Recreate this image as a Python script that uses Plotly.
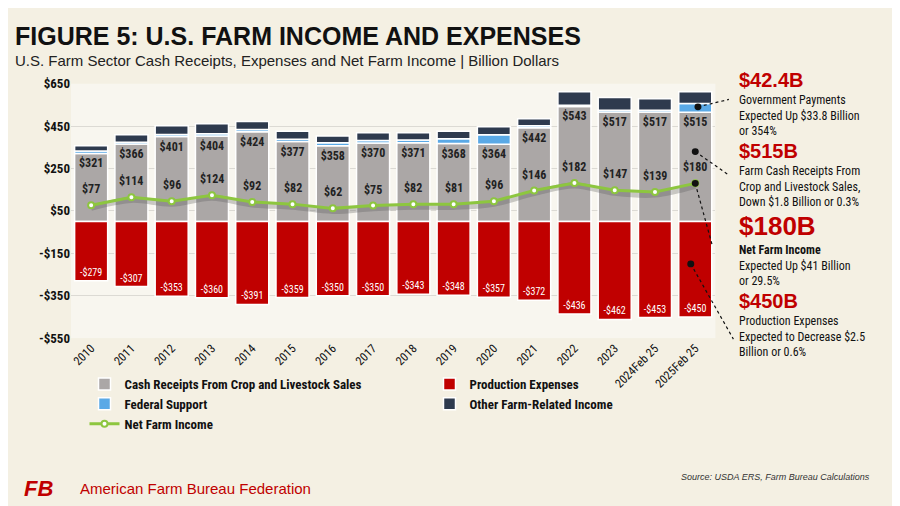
import plotly.graph_objects as go

years = ["2010","2011","2012","2013","2014","2015","2016","2017","2018","2019","2020","2021","2022","2023","2024Feb 25","2025Feb 25"]
cash = [321,366,401,404,424,377,358,370,371,368,364,442,543,517,517,515]
federal = [12,8,10,10,10,11,13,12,14,22,45,10,6,8,8,42]
other = [24,35,41,47,38,38,32,37,34,36,38,33,63,60,54,55]
expenses = [-279,-307,-353,-360,-391,-359,-350,-350,-343,-348,-357,-372,-436,-462,-453,-450]
net = [77,114,96,124,92,82,62,75,82,81,96,146,182,147,139,180]

XD = [0.07, 0.786]
YD = [0.342, 0.86]
YR = [-550, 650]

NARROW = "Liberation Sans Narrow, Arial Narrow, Roboto Condensed, sans-serif"
fig = go.Figure()
fig.add_bar(x=years, y=cash, name="<b>Cash Receipts From Crop and Livestock Sales</b>",
            marker=dict(color="#aba7a6", line=dict(color="#ffffff", width=1.5)),
            text=[f"<b>${v}</b>" for v in cash], textposition="inside", insidetextanchor="end",
            textangle=0, textfont=dict(family=NARROW, size=12, color="#222"))
fig.add_bar(x=years, y=expenses, name="<b>Production Expenses</b>",
            marker=dict(color="#c00000", line=dict(color="#ffffff", width=1.5)),
            text=[f"-${-v}" for v in expenses], textposition="inside", insidetextanchor="end",
            textangle=0, textfont=dict(family=NARROW, size=10, color="white"))
fig.add_bar(x=years, y=federal, name="<b>Federal Support</b>",
            marker=dict(color="#5aa9e6", line=dict(color="#ffffff", width=1.5)))
fig.add_bar(x=years, y=other, name="<b>Other Farm-Related Income</b>",
            marker=dict(color="#2e3a4e", line=dict(color="#ffffff", width=1.5)))
fig.add_scatter(x=years, y=[v - 12 for v in net], mode="lines", showlegend=False, hoverinfo="skip",
                line=dict(color="rgba(90,90,90,0.3)", width=6, shape="spline"))
fig.add_scatter(x=years, y=net, name="<b>Net Farm Income</b>", mode="lines+markers",
                line=dict(color="#8dc63f", width=3),
                marker=dict(size=6, color="white", line=dict(color="#8dc63f", width=2)))
for i, v in enumerate(net):
    fig.add_annotation(x=i, y=v, text=f"<b>${v}</b>", showarrow=False, yshift=16,
                       font=dict(family=NARROW, size=12, color="#222"))

fig.update_layout(
    width=900, height=506, barmode="relative", bargap=0.18,
    paper_bgcolor="#f4f0e3", plot_bgcolor="#f8f6ef",
    margin=dict(l=0, r=0, t=0, b=0),
    font=dict(family=NARROW, color="#111"),
    xaxis=dict(type="category", domain=XD, range=[-0.5, 15.5], tickangle=-45,
               tickfont=dict(size=12, family=NARROW), showgrid=False, ticks=""),
    yaxis=dict(domain=YD, range=YR, tickvals=[-550,-350,-150,50,250,450,650],
               ticktext=["<b>-$550</b>","<b>-$350</b>","<b>-$150</b>","<b>$50</b>","<b>$250</b>","<b>$450</b>","<b>$650</b>"],
               tickfont=dict(size=13, family=NARROW), gridcolor="#dcdad4", zeroline=False),
    legend=dict(orientation="h", x=0.085, y=0.279, xanchor="left", yanchor="top",
                entrywidth=300, traceorder="normal",
                font=dict(size=13, family=NARROW), bgcolor="rgba(0,0,0,0)"),
)

fig.add_annotation(xref="paper", yref="paper", x=0.005, y=0.957, xanchor="left", yanchor="middle",
                   text="<b>FIGURE 5: U.S. FARM INCOME AND EXPENSES</b>", showarrow=False,
                   font=dict(family="Liberation Sans, Arial", size=25, color="#111"))
fig.add_annotation(xref="paper", yref="paper", x=0.005, y=0.907, xanchor="left", yanchor="middle",
                   text="U.S. Farm Sector Cash Receipts, Expenses and Net Farm Income | Billion Dollars",
                   showarrow=False, font=dict(family="Liberation Sans, Arial", size=15, color="#222"))

blocks = [
    (0.895, "$42.4B", 20, ["Government Payments", "Expected Up $33.8 Billion", "or 354%"]),
    (0.75, "$515B", 20, ["Farm Cash Receipts From", "Crop and Livestock Sales,", "Down $1.8 Billion or 0.3%"]),
    (0.605, "$180B", 26, ["<b>Net Farm Income</b>", "Expected Up $41 Billion", "or 29.5%"]),
    (0.445, "$450B", 20, ["Production Expenses", "Expected to Decrease $2.5", "Billion or 0.6%"]),
]
for y, head, sz, lines in blocks:
    fig.add_annotation(xref="paper", yref="paper", x=0.81, y=y, xanchor="left", yanchor="top",
                       text=f"<b>{head}</b>", showarrow=False,
                       font=dict(family="Liberation Sans, Arial", size=sz, color="#c00000"))
    fig.add_annotation(xref="paper", yref="paper", x=0.81, y=y - (0.05 if sz == 20 else 0.065),
                       xanchor="left", yanchor="top", align="left", showarrow=False,
                       text="<br>".join(lines), font=dict(family=NARROW, size=12, color="#111"))

def px(i):
    return XD[0] + (XD[1] - XD[0]) * (i + 0.5) / 16
def py(v):
    return YD[0] + (YD[1] - YD[0]) * (v - YR[0]) / (YR[1] - YR[0])

last = 15
pointers = [
    (px(last) + 0.003, py(cash[last] + federal[last] / 2 + 5), 0.801, 1 - 87 / 506),
    (px(last), py(net[last] + 150), 0.801, 1 - 165 / 506),
    (px(last), py(net[last]), 0.783, 1 - 239 / 506),
    (px(last) - 0.005, py(-200), 0.806, 1 - 334 / 506),
]
for x0, y0, x1, y1 in pointers:
    fig.add_shape(type="line", xref="paper", yref="paper", x0=x0, y0=y0, x1=x1, y1=y1,
                  line=dict(color="#111", width=1.2, dash="dot"))
    fig.add_shape(type="circle", xref="paper", yref="paper", x0=x0 - 3.5/900, x1=x0 + 3.5/900,
                  y0=y0 - 3.5/506, y1=y0 + 3.5/506, fillcolor="#111", line=dict(width=0))

fig.add_annotation(xref="paper", yref="paper", x=0.015, y=0.035, xanchor="left", yanchor="middle",
                   text="<b><i>FB</i></b>", showarrow=False,
                   font=dict(family="Liberation Sans", size=22, color="#c00000"))
fig.add_annotation(xref="paper", yref="paper", x=0.078, y=0.035, xanchor="left", yanchor="middle",
                   text="American Farm Bureau Federation", showarrow=False,
                   font=dict(family="Liberation Sans", size=15, color="#c00000"))
fig.add_annotation(xref="paper", yref="paper", x=0.96, y=0.06, xanchor="right", yanchor="middle",
                   text="<i>Source: USDA ERS, Farm Bureau Calculations</i>", showarrow=False,
                   font=dict(family="Liberation Sans", size=9, color="#333"))

fig.write_html("out.html")
